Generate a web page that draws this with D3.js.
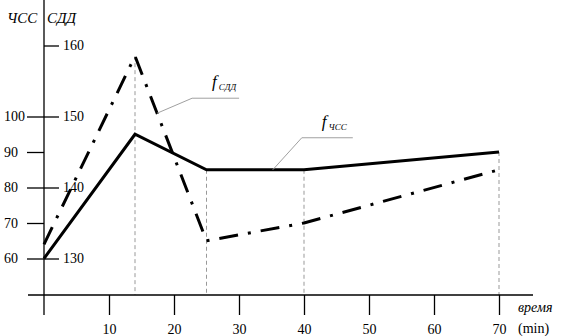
<!DOCTYPE html>
<html>
<head>
<meta charset="utf-8">
<script src="https://cdn.jsdelivr.net/npm/d3@7"></script>
<style>
  html, body { margin: 0; padding: 0; background: #fff; }
  svg { display: block; }
  svg text { font-family: "Liberation Serif", "Times New Roman", "DejaVu Serif", serif; fill: #000; }
</style>
</head>
<body>
<svg id="chart" width="567" height="336"></svg>
<script>
// time points (min)
const times = [0, 14, 25, 40, 70];
// heart rate, ЧСС
const hrValues = [60, 95, 85, 85, 90];
// mean arterial pressure, СДД
const sddValues = [132, 158.5, 132.5, 135, 142.5];

const xTicks = [10, 20, 30, 40, 50, 60, 70];
const hrTicks = [60, 70, 80, 90, 100];
const sddTicks = [130, 140, 150, 160];

const svg = d3.select('#chart');

const x = d3.scaleLinear().domain([0, 70]).range([44, 499]);
const yHr = d3.scaleLinear().domain([60, 100]).range([258.5, 116.5]);
const ySdd = d3.scaleLinear().domain([130, 160]).range([258.5, 45.5]);

const x0 = x(0), axisY = 295;

// guide lines from each point down to the time axis
svg.append('g').selectAll('line')
  .data(times.slice(1))
  .join('line')
    .attr('x1', d => x(d)).attr('x2', d => x(d))
    .attr('y1', (d, i) => Math.min(yHr(hrValues[i + 1]), ySdd(sddValues[i + 1])))
    .attr('y2', axisY)
    .attr('stroke', '#999').attr('stroke-width', 1)
    .attr('stroke-dasharray', '4,3');

// axes lines
svg.append('line')
  .attr('x1', x0 - 16).attr('x2', x(70) + 34)
  .attr('y1', axisY).attr('y2', axisY)
  .attr('stroke', '#000').attr('stroke-width', 1.3);
svg.append('line')
  .attr('x1', x0).attr('x2', x0)
  .attr('y1', 0).attr('y2', axisY + 20)
  .attr('stroke', '#000').attr('stroke-width', 1.3);

// x axis
const gx = svg.append('g')
  .attr('transform', `translate(0,${axisY})`)
  .call(d3.axisBottom(x).tickValues(xTicks).tickSize(20).tickPadding(9).tickFormat(d3.format('d')));
gx.select('.domain').remove();
gx.attr('font-family', null);
gx.selectAll('line').attr('stroke-width', 1.3);
gx.selectAll('text').attr('font-size', 14);

// ЧСС axis (left ticks)
const gHr = svg.append('g')
  .attr('transform', `translate(${x0},0)`)
  .call(d3.axisLeft(yHr).tickValues(hrTicks).tickSize(17).tickFormat(d3.format('d')));
gHr.select('.domain').remove();
gHr.attr('font-family', null);
gHr.selectAll('line').attr('stroke-width', 1.3);
gHr.selectAll('text')
  .attr('x', -40).attr('text-anchor', 'start')
  .attr('font-size', 14);

// СДД axis (right ticks)
const gSdd = svg.append('g')
  .attr('transform', `translate(${x0},0)`)
  .call(d3.axisRight(ySdd).tickValues(sddTicks).tickSize(15).tickPadding(4).tickFormat(d3.format('d')));
gSdd.select('.domain').remove();
gSdd.attr('font-family', null);
gSdd.selectAll('line').attr('stroke-width', 1.3);
gSdd.selectAll('text').attr('font-size', 14);

// axis titles
svg.append('text').attr('x', 7).attr('y', 23)
  .attr('font-size', 15).attr('font-style', 'italic').text('ЧСС');
svg.append('text').attr('x', 47).attr('y', 23)
  .attr('font-size', 15).attr('font-style', 'italic').text('СДД');
svg.append('text').attr('x', 518).attr('y', 312)
  .attr('font-size', 14).attr('font-style', 'italic').text('время');
svg.append('text').attr('x', 518).attr('y', 333)
  .attr('font-size', 14).text('(min)');

// series
const lineHr = d3.line().x((d, i) => x(times[i])).y(d => yHr(d));
const lineSdd = d3.line().x((d, i) => x(times[i])).y(d => ySdd(d));

svg.append('path').datum(sddValues)
  .attr('d', lineSdd)
  .attr('fill', 'none').attr('stroke', '#000').attr('stroke-width', 3)
  .attr('stroke-dasharray', '19,10,3,10');

svg.append('path').datum(hrValues)
  .attr('d', lineHr)
  .attr('fill', 'none').attr('stroke', '#000').attr('stroke-width', 3)
  .attr('stroke-linejoin', 'miter');

// callouts: anchor time on the series, then elbow offset and shelf length
function valueAt(vals, t) {
  return d3.scaleLinear().domain(times).range(vals)(t);
}
const callouts = [
  { name: 'СДД', t: 17.4, vals: sddValues, y: ySdd, dx: 35, dy: -15, shelf: 47 },
  { name: 'ЧСС', t: 35.2, vals: hrValues, y: yHr, dx: 29, dy: -32, shelf: 51 }
];
callouts.forEach(c => {
  const px = x(c.t), py = c.y(valueAt(c.vals, c.t));
  const ex = px + c.dx, ey = py + c.dy;
  svg.append('path')
    .attr('d', `M${px},${py}L${ex},${ey}H${ex + c.shelf}`)
    .attr('fill', 'none').attr('stroke', '#a0a0a0').attr('stroke-width', 1);
  const t = svg.append('text')
    .attr('x', ex + 20).attr('y', ey - 11)
    .attr('font-size', 17).attr('font-style', 'italic');
  t.append('tspan').text('f');
  t.append('tspan').attr('font-size', 9).attr('dy', 3).attr('dx', 2).text(c.name);
});
</script>
</body>
</html>
